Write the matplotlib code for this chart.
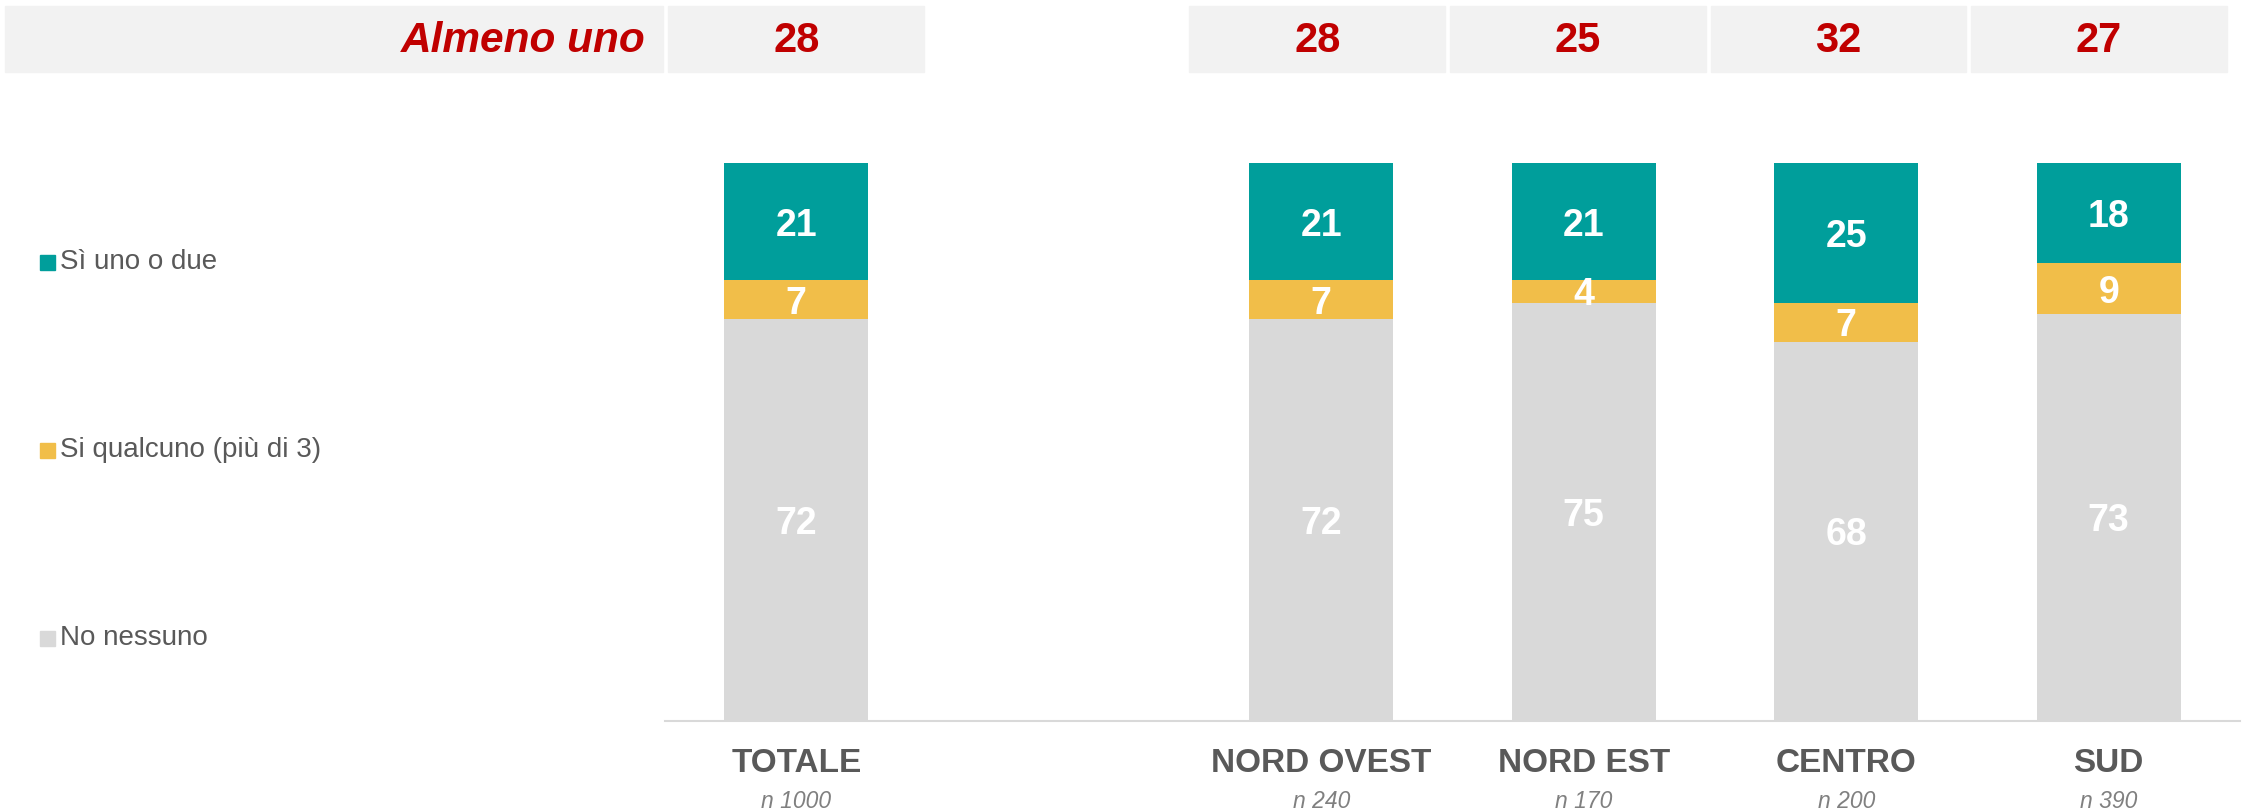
import matplotlib.pyplot as plt
import matplotlib.transforms as mtransforms
from matplotlib.patches import Rectangle
import numpy as np

# data
categories = ["TOTALE", "NORD OVEST", "NORD EST", "CENTRO", "SUD"]
sample_n = ["n 1000", "n 240", "n 170", "n 200", "n 390"]
no_nessuno = [72, 72, 75, 68, 73]
si_qualcuno = [7, 7, 4, 7, 9]
si_uno_due = [21, 21, 21, 25, 18]
almeno_uno = [28, 28, 25, 32, 27]
series_names = ["Sì uno o due", "Si qualcuno (più di 3)", "No nessuno"]

positions = [0, 2, 3, 4, 5]

TEAL = "#009E9B"
YELLOW = "#F1BE49"
GREY = "#D9D9D9"
RED = "#C00000"
TXT = "#595959"

plt.rcParams["font.family"] = ["Liberation Sans", "DejaVu Sans"]

fig = plt.figure(figsize=(22.47, 8.11), dpi=100)
W, H = 2247, 811
ax = fig.add_axes([665 / W, 1 - 721 / H, (2240 - 665) / W, (721 - 140) / H])
ax.set_xlim(-0.5, 5.5)
ax.set_ylim(0, 581 / 558 * 100)

bw = 0.55
b1 = np.array(no_nessuno)
b2 = b1 + np.array(si_qualcuno)
ax.bar(positions, no_nessuno, bw, color=GREY)
ax.bar(positions, si_qualcuno, bw, bottom=b1, color=YELLOW)
ax.bar(positions, si_uno_due, bw, bottom=b2, color=TEAL)

for x, a, b, c in zip(positions, no_nessuno, si_qualcuno, si_uno_due):
    for bottom, v in ((0, a), (a, b), (a + b, c)):
        ax.text(x, bottom + v / 2, str(v), ha="center", va="center_baseline",
                color="white", fontsize=27, fontweight="bold")

for s in ["top", "right", "left"]:
    ax.spines[s].set_visible(False)
ax.spines["bottom"].set_color(GREY)
ax.spines["bottom"].set_linewidth(1.5)
ax.set_yticks([])
ax.set_xticks([])

# category labels
trans = mtransforms.blended_transform_factory(ax.transData, fig.transFigure)
for x, c, n in zip(positions, categories, sample_n):
    ax.text(x, 1 - 764 / H, c, transform=trans, ha="center", va="center",
            color=TXT, fontsize=24, fontweight="bold")
    ax.text(x, 1 - 801 / H, n, transform=trans, ha="center", va="center",
            color="#808080", fontsize=16.5, style="italic")

# header row
hy0, hy1 = 1 - 72 / H, 1 - 6 / H
fig.patches.append(Rectangle((5 / W, hy0), (663 - 5) / W, hy1 - hy0,
                             transform=fig.transFigure, color="#F2F2F2", zorder=0))
fig.text(646 / W, 1 - 41 / H, "Almeno uno", ha="right", va="center", color=RED,
         fontsize=30.5, fontweight="bold", style="italic")
for x, v in zip(positions, almeno_uno):
    hx = x * 0.9925
    r = Rectangle((hx - 0.487, hy0), 0.974, hy1 - hy0, transform=trans,
                  color="#F2F2F2", clip_on=False, zorder=0)
    ax.add_patch(r)
    ax.text(hx, 1 - 41 / H, str(v), transform=trans, ha="center", va="center",
            color=RED, fontsize=30, fontweight="bold")

# legend
leg_y = [262, 450, 638]
for y, name, col in zip(leg_y, series_names, [TEAL, YELLOW, GREY]):
    fig.patches.append(Rectangle((40 / W, 1 - (y + 8) / H), 15 / W, 15 / H,
                                 transform=fig.transFigure, color=col))
    fig.text(60 / W, 1 - y / H, name, ha="left", va="center", color=TXT, fontsize=20)

fig.savefig("out.png", dpi=100)
